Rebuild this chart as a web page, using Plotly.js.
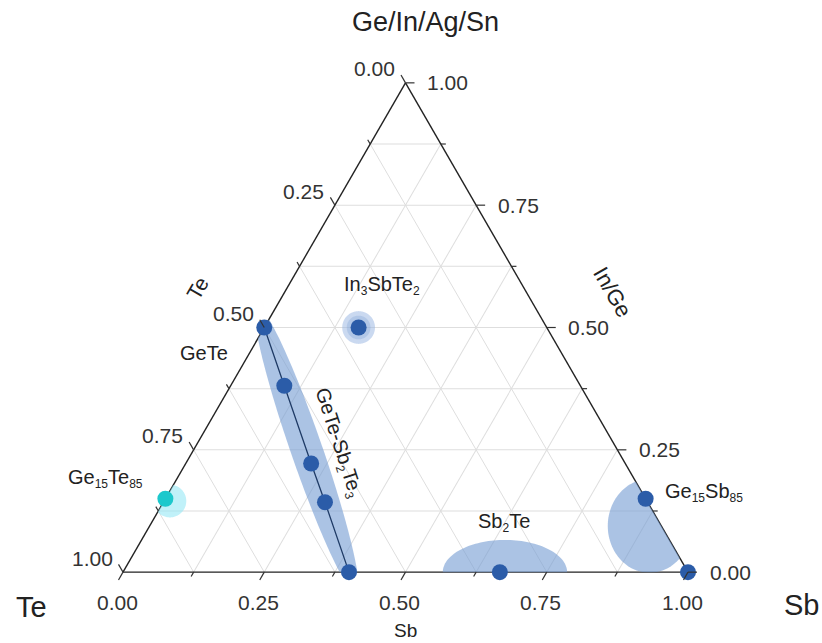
<!DOCTYPE html>
<html><head><meta charset="utf-8">
<script src="https://cdn.plot.ly/plotly-3.0.1.min.js"></script>
<style>html,body{margin:0;padding:0;background:#fff}#chart{width:822px;height:643px}</style>
</head><body><div id="chart"></div>
<script>
// ---- Data (fractions): a = Ge/In/Ag/Sn (top), b = Te (bottom-left), c = Sb (bottom-right)
const gstNames = ['GeTe', 'Ge8Sb2Te11', 'Ge2Sb2Te5', 'Ge1Sb2Te4', 'Sb2Te3'];
const gstGe = [0.5, 0.381, 0.222, 0.143, 0.0];
const gstTe = [0.5, 0.524, 0.556, 0.571, 0.6];
const gstSb = [0.0, 0.095, 0.222, 0.286, 0.4];

const otherNames = ['In3SbTe2', 'Sb2Te', 'Ge15Sb85', 'Sb'];
const otherGe = [0.5, 0.0, 0.15, 0.0];
const otherTe = [0.333, 0.333, 0.0, 0.0];
const otherSb = [0.167, 0.667, 0.85, 1.0];

const cyanNames = ['Ge15Te85'];
const cyanGe = [0.15];
const cyanTe = [0.85];
const cyanSb = [0.0];

const gridVals = [0, 0.125, 0.25, 0.375, 0.5, 0.625, 0.75, 0.875, 1];
const majorVals = [0, 0.25, 0.5, 0.75, 1];
const majorText = ['0.00', '0.25', '0.50', '0.75', '1.00'];

// ---- Geometry helpers
const S3 = Math.sqrt(3);
const W = 822, H = 643;
const M = {l: 123, r: 134, t: 82, b: 70};
const pw = W - M.l - M.r, ph = H - M.t - M.b;
const triW = Math.min(pw, ph * 2 / S3);
const ox = (pw - triW) / 2, oy = (ph - triW * S3 / 2) / 2;
function toCart(a, c) { return [c + a / 2, a * S3 / 2]; }
function fromCart(x, y) { const a = 2 * y / S3; const c = x - a / 2; return [a, 1 - a - c, c]; }
function paperOf(a, c) { const [x, y] = toCart(a, c); return {x: (ox + x * triW) / pw, y: (oy + y * triW) / ph}; }
function pxX(x) { return (x - M.l) / pw; }
function pxY(y) { return (H - M.b - y) / ph; }
function ellipse(cx, cy, rx, ry, ang) {
  const A = [], B = [], C = [], n = 140;
  for (let i = 0; i <= n; i++) {
    const t = 2 * Math.PI * i / n;
    const ex = rx * Math.cos(t), ey = ry * Math.sin(t);
    const x = cx + ex * Math.cos(ang) - ey * Math.sin(ang);
    const y = cy + ex * Math.sin(ang) + ey * Math.cos(ang);
    const [a, b, c] = fromCart(x, y);
    A.push(a); B.push(b); C.push(c);
  }
  return {A, B, C};
}

// ---- Shaded regions (in triangle units)
const p0 = toCart(gstGe[0], gstSb[0]);
const p1 = toCart(gstGe[4], gstSb[4]);
const band = ellipse((p0[0] + p1[0]) / 2, (p0[1] + p1[1]) / 2, 0.27, 0.028, Math.atan2(p1[1] - p0[1], p1[0] - p0[0]));
const pSb2Te = toCart(otherGe[1], otherSb[1]);
const regSb2Te = ellipse(pSb2Te[0] + 0.009, pSb2Te[1], 0.11, 0.057, 0);
const pGeSb = toCart(otherGe[2], otherSb[2]);
const regGeSb = ellipse(pGeSb[0] + 0.007, pGeSb[1] - 0.048, 0.074, 0.083, 0);
const pIn = toCart(otherGe[0], otherSb[0]);
const haloIn = ellipse(pIn[0], pIn[1], 0.029, 0.029, 0);
const haloIn2 = ellipse(pIn[0], pIn[1], 0.021, 0.021, 0);
const pCy = toCart(cyanGe[0], cyanSb[0]);
const haloCy = ellipse(pCy[0] + 0.008, pCy[1] - 0.004, 0.029, 0.029, 0);

const shade = 'rgba(120,158,212,0.62)';
function region(r, color) {
  return {type: 'scatterternary', a: r.A, b: r.B, c: r.C, mode: 'lines', fill: 'toself',
    fillcolor: color, line: {width: 0, color: color}, hoverinfo: 'skip', showlegend: false};
}

const FONT = 'Liberation Sans, Arial, Helvetica, sans-serif';

// ---- Edge ticks and tick labels (counter-clockwise axes as in the reference)
const edges = [
  {comp: v => [1 - v, 0], dir: [-0.5, -S3 / 2], lab: [-31, -14]},   // left edge: Te
  {comp: v => [v, 1 - v], dir: [1, 0], lab: [42, 0]},                // right edge: Ge
  {comp: v => [0, v], dir: [-0.5, S3 / 2], lab: [-6, 30]}            // bottom edge: Sb
];
const shapes = [];
const tickAnn = [];
edges.forEach(e => {
  gridVals.forEach(v => {
    const major = majorVals.indexOf(v) >= 0;
    const len = major ? 9 : 5;
    const [a, c] = e.comp(v);
    const p = paperOf(a, c);
    shapes.push({type: 'line', xref: 'paper', yref: 'paper', x0: p.x, y0: p.y,
      x1: p.x + e.dir[0] * len / pw, y1: p.y - e.dir[1] * len / ph,
      line: {color: '#333', width: 1.2}});
  });
  majorVals.forEach((v, i) => {
    const [a, c] = e.comp(v);
    const p = paperOf(a, c);
    tickAnn.push({xref: 'paper', yref: 'paper', x: p.x, y: p.y, xshift: e.lab[0], yshift: -e.lab[1],
      xanchor: 'center', yanchor: 'middle', showarrow: false, text: majorText[i],
      font: {family: FONT, size: 21, color: '#333'}});
  });
});

const traces = [
  region(band, shade),
  region(regSb2Te, shade),
  region(regGeSb, shade),
  region(haloIn, 'rgba(150,180,225,0.5)'),
  region(haloIn2, 'rgba(120,158,212,0.3)'),
  region(haloCy, 'rgba(150,232,245,0.6)'),
  {type: 'scatterternary', a: gstGe, b: gstTe, c: gstSb, text: gstNames, mode: 'lines+markers',
   line: {color: '#1f3b66', width: 1.3}, marker: {size: 16, color: '#2b5ca8'}, cliponaxis: false, showlegend: false},
  {type: 'scatterternary', a: otherGe, b: otherTe, c: otherSb, text: otherNames, mode: 'markers',
   marker: {size: 16, color: '#2b5ca8'}, cliponaxis: false, showlegend: false},
  {type: 'scatterternary', a: cyanGe, b: cyanTe, c: cyanSb, text: cyanNames, mode: 'markers',
   marker: {size: 16, color: '#1cc8cc'}, cliponaxis: false, showlegend: false}
];

function axis() {
  return {title: {text: ''}, tickmode: 'array', tickvals: gridVals, showticklabels: false, ticks: '',
    showline: true, linecolor: '#222', linewidth: 1.4,
    showgrid: true, gridcolor: '#dedede', gridwidth: 1, layer: 'below traces', min: 0};
}

const SUB = s => '<sub><span style="font-size:12px">' + s + '</span></sub>';
function ptLabel(ge, sb, text, dx, dy, angle) {
  const p = paperOf(ge, sb);
  return {xref: 'paper', yref: 'paper', x: p.x, y: p.y, xanchor: 'center', yanchor: 'middle',
    text: text, showarrow: false, xshift: dx, yshift: dy, textangle: angle || 0,
    font: {family: FONT, size: 20, color: '#222'}};
}
function pxLabel(x, y, text, size, angle) {
  return {xref: 'paper', yref: 'paper', x: pxX(x), y: pxY(y), xanchor: 'center', yanchor: 'middle',
    text: text, showarrow: false, textangle: angle || 0, font: {family: FONT, size: size, color: '#222'}};
}

const midGe = (gstGe[0] + gstGe[4]) / 2, midSb = (gstSb[0] + gstSb[4]) / 2;
const annotations = [
  pxLabel(425, 22, 'Ge/In/Ag/Sn', 27),
  pxLabel(31, 607, 'Te', 29),
  pxLabel(801, 605, 'Sb', 29),
  pxLabel(197, 288, 'Te', 21, -60),
  pxLabel(613, 292, 'In/Ge', 22, 60),
  pxLabel(405, 630, 'Sb', 19),
  ptLabel(gstGe[0], gstSb[0], 'GeTe', -60, -25),
  ptLabel(otherGe[0], otherSb[0], 'In' + SUB('3') + 'SbTe' + SUB('2'), 23, 42),
  ptLabel(cyanGe[0], cyanSb[0], 'Ge' + SUB('15') + 'Te' + SUB('85'), -60, 20),
  ptLabel(otherGe[2], otherSb[2], 'Ge' + SUB('15') + 'Sb' + SUB('85'), 58, 6),
  ptLabel(otherGe[1], otherSb[1], 'Sb' + SUB('2') + 'Te', 4, 50),
  ptLabel(midGe, midSb, 'GeTe-Sb' + SUB('2') + 'Te' + SUB('3'), 31, 7, 72),
  ...tickAnn
];

const layout = {
  width: W, height: H, margin: M, paper_bgcolor: '#fff', showlegend: false,
  font: {family: FONT, color: '#222'},
  ternary: {sum: 1, bgcolor: '#fff', aaxis: axis(), baxis: axis(), caxis: axis()},
  annotations: annotations, shapes: shapes
};
Plotly.newPlot('chart', traces, layout, {displayModeBar: false, staticPlot: true});
</script></body></html>
